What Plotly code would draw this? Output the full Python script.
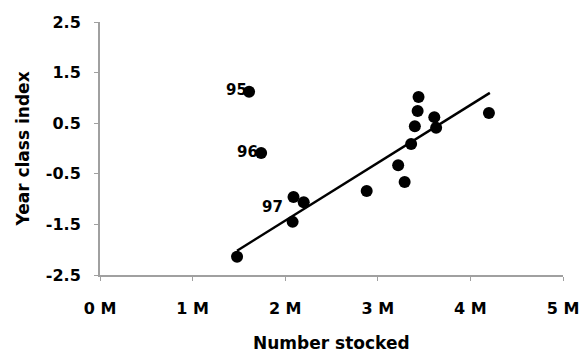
import plotly.graph_objects as go

stocked_m = [1.61, 1.74, 2.09, 2.20, 2.08, 1.48, 2.88, 3.44, 3.43, 3.40, 3.61, 3.63, 3.36, 3.22, 3.29, 4.20]
year_class = [1.12, -0.09, -0.96, -1.06, -1.45, -2.14, -0.84, 1.02, 0.74, 0.44, 0.62, 0.41, 0.09, -0.33, -0.66, 0.70]
trend_x_m = [1.48, 4.21]
trend_y = [-2.02, 1.10]
label_text = ["95", "96", "97"]
label_x_m = [1.47, 1.59, 1.86]
label_y = [1.15, -0.06, -1.16]
x_ticks_m = [0, 1, 2, 3, 4, 5]
x_tick_text = ["0 M", "1 M", "2 M", "3 M", "4 M", "5 M"]
y_ticks = [-2.5, -1.5, -0.5, 0.5, 1.5, 2.5]
y_tick_text = ["-2.5", "-1.5", "-0.5", "0.5", "1.5", "2.5"]
x_title = "Number stocked"
y_title = "Year class index"

M = 1e6
font = "DejaVu Sans"

fig = go.Figure()
fig.add_trace(go.Scatter(
    x=[v * M for v in trend_x_m], y=trend_y, mode="lines",
    line=dict(color="black", width=2.5), showlegend=False, hoverinfo="skip"))
fig.add_trace(go.Scatter(
    x=[v * M for v in stocked_m], y=year_class, mode="markers",
    marker=dict(color="black", size=12), showlegend=False))

for t, xv, yv in zip(label_text, label_x_m, label_y):
    fig.add_annotation(x=xv * M, y=yv, text=t, showarrow=False,
                       font=dict(family=font, size=15, color="black", weight=700))

fig.add_annotation(x=0.5, y=0, xref="paper", yref="paper", yshift=-68,
                   text=x_title, showarrow=False, yanchor="middle",
                   font=dict(family=font, size=17, color="black", weight=700))

axis_common = dict(showgrid=False, zeroline=False, showline=True,
                   linecolor="#a0a0a0", linewidth=2, ticks="outside",
                   ticklen=4, tickcolor="#a0a0a0", tickwidth=1,
                   tickfont=dict(family=font, size=16, color="black", weight=700))

fig.update_xaxes(range=[0, 5 * M], tickvals=[v * M for v in x_ticks_m],
                 ticktext=x_tick_text, automargin=False,
                 ticklabelstandoff=14, **axis_common)
fig.update_yaxes(range=[-2.5, 2.5], tickvals=y_ticks,
                 ticktext=y_tick_text,
                 title=dict(text=y_title, standoff=12,
                            font=dict(family=font, size=17, color="black", weight=700)),
                 ticklabelstandoff=10, **axis_common)

fig.update_layout(width=584, height=356, plot_bgcolor="white", paper_bgcolor="white",
                  margin=dict(l=100, r=21, t=22, b=81))

fig.write_html("out.html")
